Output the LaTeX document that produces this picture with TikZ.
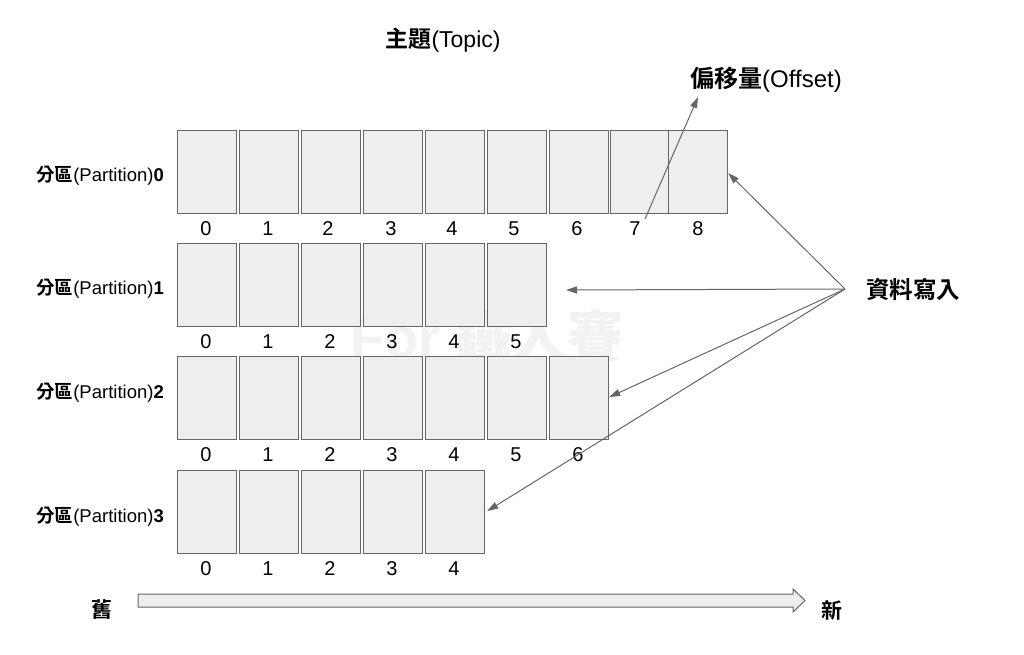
\documentclass[tikz,border=0pt]{standalone}
\usepackage{fontspec}
\setmainfont{Liberation Sans}
\newfontfamily\cjk{Noto Sans CJK TC}
\newfontfamily\cjkb{Noto Sans CJK TC Bold}
\usetikzlibrary{arrows.meta}
\definecolor{cellfill}{HTML}{EEEEEE}
\definecolor{edge}{HTML}{666666}
\tikzset{
  cell/.style={draw=edge, fill=cellfill, line width=1.2pt, minimum height=83pt, inner sep=0pt, anchor=north west},
  idx/.style={font=\fontsize{20}{22}\selectfont, inner sep=0pt},
  plabel/.style={font=\fontsize{18.5}{20}\selectfont, anchor=east, inner sep=0pt},
  wr/.style={draw=edge, line width=1pt, -{Triangle[length=11pt,width=7pt]}}
}
\begin{document}
\begin{tikzpicture}[x=1pt,y=-1pt]
\useasboundingbox[fill=white] (0,0) rectangle (1024,655);
% watermark
\node[text=black!5, font=\fontsize{56}{60}\selectfont\bfseries, inner sep=0pt] (wm) at (487,336) {For {\cjkb 鐵人賽}};
% title
\node[font=\fontsize{23}{25}\selectfont, inner sep=0pt] (title) at (443,40) {{\cjkb 主題}(Topic)};
\node[font=\fontsize{24}{26}\selectfont, inner sep=0pt] (offset) at (766,80) {{\cjkb 偏移量}(Offset)};
% row 0
\foreach \i/\x/\w in {0/177/59,1/239/59,2/301/59,3/363/59,4/425/59,5/487/59,6/549/59,7/610/58,8/668/59}{
  \node[cell, minimum width=\w pt] (r0c\i) at (\x,130) {};
}
\foreach \i/\x in {0/206,1/268,2/328,3/391,4/452,5/514,6/577,7/635,8/698}{
  \node[idx] (n0\i) at (\x,229) {\i};
}
% row 1
\foreach \i/\x in {0/177,1/239,2/301,3/363,4/425,5/487}{
  \node[cell, minimum width=59pt] (r1c\i) at (\x,243) {};
  \node[idx] (n1\i) at (\x+29,342) {\i};
}
% row 2
\foreach \i/\x in {0/177,1/239,2/301,3/363,4/425,5/487,6/549}{
  \node[cell, minimum width=59pt] (r2c\i) at (\x,356) {};
  \node[idx] (n2\i) at (\x+29,455) {\i};
}
% row 3
\foreach \i/\x in {0/177,1/239,2/301,3/363,4/425}{
  \node[cell, minimum width=59pt] (r3c\i) at (\x,470) {};
  \node[idx] (n3\i) at (\x+29,569) {\i};
}
% partition labels
\node[plabel] (p0) at (164,176) {{\cjkb 分區}(Partition)\textbf{0}};
\node[plabel] (p1) at (164,289) {{\cjkb 分區}(Partition)\textbf{1}};
\node[plabel] (p2) at (164,393) {{\cjkb 分區}(Partition)\textbf{2}};
\node[plabel] (p3) at (164,517) {{\cjkb 分區}(Partition)\textbf{3}};
% offset arrow
\coordinate (ofs) at (645,219);
\coordinate (ofe) at (698,97);
\draw[wr] (ofs) -- (ofe);
% data write
\node[font=\fontsize{23.5}{25}\selectfont\cjkb, inner sep=0pt] (write) at (913,289) {資料寫入};
\coordinate (src) at (845,289);
\coordinate (t1) at (566,290);
\draw[wr] (src) -- ([yshift=-1pt]r0c8.east);
\draw[wr] (src) -- (t1);
\draw[wr] (src) -- ([yshift=1pt]r2c6.east);
\draw[wr] (src) -- ([yshift=1pt,xshift=2pt]r3c4.east);
% old -> new
\node[font=\fontsize{21}{23}\selectfont\cjkb, inner sep=0pt] (old) at (102,610) {舊};
\node[font=\fontsize{21}{23}\selectfont\cjkb, inner sep=0pt] (new) at (832,610) {新};
\draw[draw=edge, fill=cellfill, line width=1pt] (138,594) -- (793,594) -- (793,589) -- (805,600.5) -- (793,612) -- (793,607) -- (138,607) -- cycle;
\end{tikzpicture}
\end{document}
